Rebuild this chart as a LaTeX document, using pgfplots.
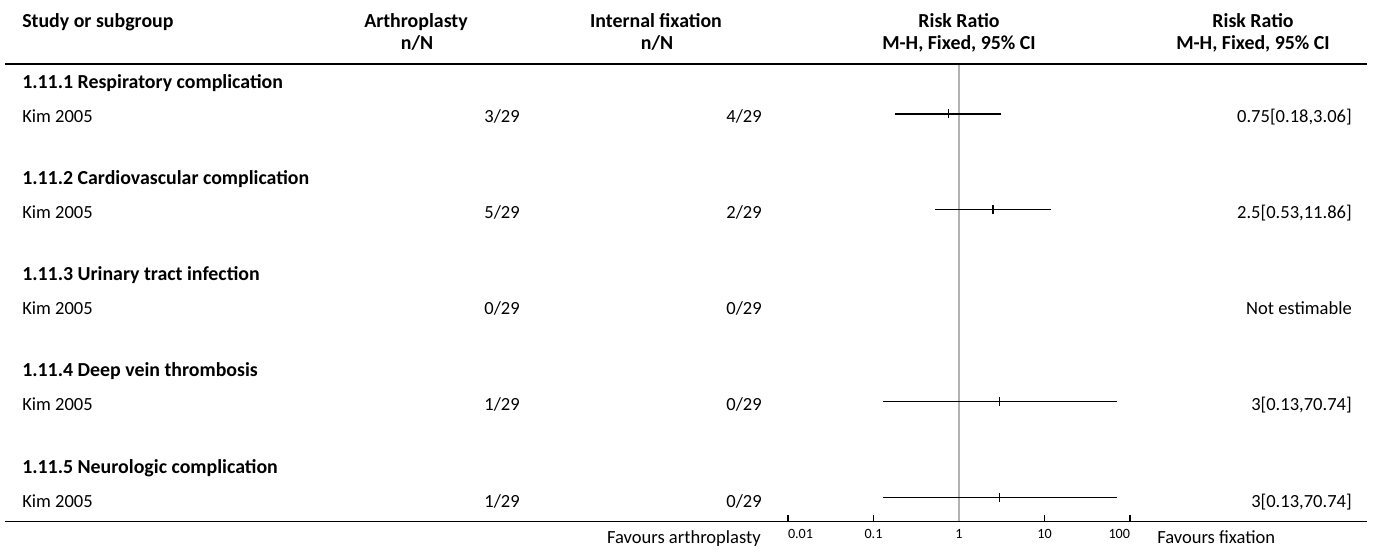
\documentclass[border=0pt]{standalone}
\usepackage{fontspec}
\setmainfont{Carlito}
\usepackage{pgfplots}
\pgfplotsset{compat=1.18}
\newcommand{\bodyfont}{\fontsize{13.9}{16}\selectfont}
\newcommand{\boldfont}{\fontsize{14.9}{17}\selectfont\bfseries}
\newcommand{\tickfont}{\fontsize{10.6}{12}\selectfont}
\begin{document}
\begin{tikzpicture}[font=\bodyfont]
\begin{axis}[
  at={(591pt,-391pt)}, anchor=south west,
  scale only axis, width=256.5pt, height=343pt,
  xmode=log, xmin=0.01, xmax=100,
  ymin=0.4792, ymax=5.25, y dir=reverse,
  axis x line*=bottom, axis y line=none,
  x axis line style={draw=none},
  xtick={0.01,0.1,1,10,100},
  xticklabels={\rlap{0.01},0.1,1,10,\llap{100}},
  xminorticks=false,
  tick align=inside,
  major tick length=4.5pt,
  tick style={black, line width=0.9pt},
  xticklabel style={font=\tickfont, anchor=base, yshift=-12.75pt},
  clip=false,
]
\addplot[gray!60, line width=1.1pt] coordinates {(1,0.4792) (1,5.25)};
\addplot[black, line width=1pt] coordinates {(0.18,1) (3.06,1)};
\addplot[black, line width=1pt] coordinates {(0.53,2) (11.86,2)};
\addplot[black, line width=1pt] coordinates {(0.13,4) (70.74,4)};
\addplot[black, line width=1pt] coordinates {(0.13,5) (70.74,5)};
\addplot[only marks, mark=|, mark size=3.4pt, mark options={line width=1pt, black}] coordinates {(0.75,1) (2.5,2) (3,4) (3,5)};
\end{axis}
\begin{scope}[x=0.75pt,y=-0.75pt]
\path[use as bounding box] (0,0) rectangle (1375,552);
\begin{scope}[every node/.style={font=\boldfont, inner sep=0pt}]
\node[anchor=base west] at (22,28) {Study or subgroup};
\node[anchor=base] at (416,28) {Arthroplasty};
\node[anchor=base] at (417,50) {n/N};
\node[anchor=base] at (656,28) {Internal fixation};
\node[anchor=base] at (657,50) {n/N};
\node[anchor=base] at (959,28) {Risk Ratio};
\node[anchor=base] at (959,50) {M-H, Fixed, 95\% CI};
\node[anchor=base] at (1253,28) {Risk Ratio};
\node[anchor=base] at (1253,50) {M-H, Fixed, 95\% CI};
\node[anchor=base west] at (22,89) {1.11.1 Respiratory complication};
\node[anchor=base west] at (22,185) {1.11.2 Cardiovascular complication};
\node[anchor=base west] at (22,281) {1.11.3 Urinary tract infection};
\node[anchor=base west] at (22,377) {1.11.4 Deep vein thrombosis};
\node[anchor=base west] at (22,473) {1.11.5 Neurologic complication};
\end{scope}
\draw[line width=1.1pt] (5,64) -- (1367,64);
\draw[line width=1.1pt] (5,521.5) -- (1367,521.5);
\begin{scope}[every node/.style={font=\bodyfont, inner sep=0pt}]
\node[anchor=base west] at (22,123) {Kim 2005};
\node[anchor=base east] at (520,123) {3/29};
\node[anchor=base east] at (762,123) {4/29};
\node[anchor=base east] at (1352,123) {0.75[0.18,3.06]};
\node[anchor=base west] at (22,219) {Kim 2005};
\node[anchor=base east] at (520,219) {5/29};
\node[anchor=base east] at (762,219) {2/29};
\node[anchor=base east] at (1352,219) {2.5[0.53,11.86]};
\node[anchor=base west] at (22,315) {Kim 2005};
\node[anchor=base east] at (520,315) {0/29};
\node[anchor=base east] at (762,315) {0/29};
\node[anchor=base east] at (1352,315) {Not estimable};
\node[anchor=base west] at (22,411) {Kim 2005};
\node[anchor=base east] at (520,411) {1/29};
\node[anchor=base east] at (762,411) {0/29};
\node[anchor=base east] at (1352,411) {3[0.13,70.74]};
\node[anchor=base west] at (22,507) {Kim 2005};
\node[anchor=base east] at (520,507) {1/29};
\node[anchor=base east] at (762,507) {0/29};
\node[anchor=base east] at (1352,507) {3[0.13,70.74]};
\node[anchor=base east] at (761,543) {Favours arthroplasty};
\node[anchor=base west] at (1157,543) {Favours fixation};
\end{scope}
\end{scope}
\end{tikzpicture}
\end{document}
